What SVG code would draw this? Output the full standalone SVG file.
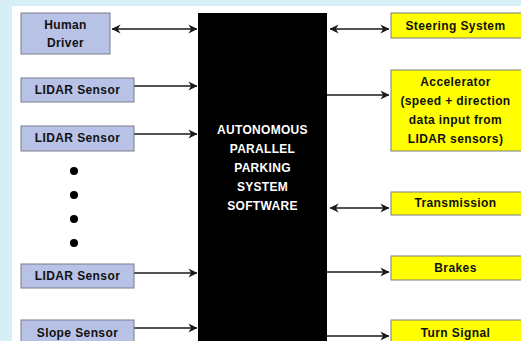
<svg xmlns="http://www.w3.org/2000/svg" width="521" height="341" viewBox="0 0 521 341">
<defs>
<style>
.bg{fill:#d8eef6}
.panel{fill:#ffffff}
.in{fill:#b8c1e6;stroke:#7d7d8a;stroke-width:1}
.out{fill:#ffff00;stroke:#7d7d7d;stroke-width:1}
.core{fill:#000000}
.t{font-family:"Comic Sans MS","Liberation Sans",sans-serif;font-weight:bold;font-size:12px;letter-spacing:0.4px;fill:#111111;text-anchor:middle}
.w{font-family:"Comic Sans MS","Liberation Sans",sans-serif;font-weight:bold;font-size:12px;letter-spacing:0.3px;fill:#ffffff;text-anchor:middle}
.c{stroke:#1a1a1a;stroke-width:1.5;fill:none}
</style>
<marker id="ah" viewBox="0 0 10 10" refX="9.5" refY="5" markerWidth="9" markerHeight="10" orient="auto-start-reverse" markerUnits="userSpaceOnUse">
<path d="M0,0 L10,5 L0,10 L3,5 Z" fill="#1a1a1a"/>
</marker>
</defs>
<rect class="bg" x="0" y="0" width="521" height="341"/>
<rect class="panel" x="12" y="6" width="509" height="335"/>

<g id="connectors">
<line class="c" x1="112" y1="29" x2="197" y2="29" marker-start="url(#ah)" marker-end="url(#ah)"/>
<line class="c" x1="134" y1="86" x2="197" y2="86" marker-end="url(#ah)"/>
<line class="c" x1="134" y1="134" x2="197" y2="134" marker-end="url(#ah)"/>
<line class="c" x1="134" y1="273" x2="197" y2="273" marker-end="url(#ah)"/>
<line class="c" x1="134" y1="328" x2="197" y2="328" marker-end="url(#ah)"/>
<line class="c" x1="330" y1="29" x2="389" y2="29" marker-start="url(#ah)" marker-end="url(#ah)"/>
<line class="c" x1="327" y1="95" x2="389" y2="95" marker-end="url(#ah)"/>
<line class="c" x1="330" y1="208" x2="389" y2="208" marker-start="url(#ah)" marker-end="url(#ah)"/>
<line class="c" x1="327" y1="272" x2="389" y2="272" marker-end="url(#ah)"/>
<line class="c" x1="327" y1="336" x2="389" y2="336" marker-end="url(#ah)"/>
</g>

<g id="human-driver">
<rect class="in" x="21" y="13" width="89" height="41"/>
<text class="t" x="65.5" y="29">Human</text>
<text class="t" x="65.5" y="47">Driver</text>
</g>
<g id="lidar-1">
<rect class="in" x="21" y="78" width="113" height="24"/>
<text class="t" x="77.5" y="94">LIDAR Sensor</text>
</g>
<g id="lidar-2">
<rect class="in" x="21" y="126" width="113" height="25"/>
<text class="t" x="77.5" y="142">LIDAR Sensor</text>
</g>
<g id="ellipsis">
<circle cx="74" cy="171" r="4" fill="#000"/>
<circle cx="74" cy="195" r="4" fill="#000"/>
<circle cx="74" cy="219" r="4" fill="#000"/>
<circle cx="74" cy="243" r="4" fill="#000"/>
</g>
<g id="lidar-3">
<rect class="in" x="21" y="264" width="113" height="24"/>
<text class="t" x="77.5" y="280">LIDAR Sensor</text>
</g>
<g id="slope-sensor">
<rect class="in" x="21" y="320" width="113" height="26"/>
<text class="t" x="77.5" y="337">Slope Sensor</text>
</g>

<g id="software">
<rect class="core" x="198" y="13" width="129" height="335"/>
<text class="w" x="262.5" y="134">AUTONOMOUS</text>
<text class="w" x="262.5" y="153">PARALLEL</text>
<text class="w" x="262.5" y="172">PARKING</text>
<text class="w" x="262.5" y="191">SYSTEM</text>
<text class="w" x="262.5" y="210">SOFTWARE</text>
</g>

<g id="steering">
<rect class="out" x="391" y="13" width="135" height="25"/>
<text class="t" x="455.5" y="30">Steering System</text>
</g>
<g id="accelerator">
<rect class="out" x="391" y="70" width="135" height="81"/>
<text class="t" x="455.5" y="86">Accelerator</text>
<text class="t" x="455.5" y="105">(speed + direction</text>
<text class="t" x="455.5" y="124">data input from</text>
<text class="t" x="455.5" y="143">LIDAR sensors)</text>
</g>
<g id="transmission">
<rect class="out" x="391" y="192" width="135" height="23"/>
<text class="t" x="455.5" y="207">Transmission</text>
</g>
<g id="brakes">
<rect class="out" x="391" y="256" width="135" height="24"/>
<text class="t" x="455.5" y="272">Brakes</text>
</g>
<g id="turn-signal">
<rect class="out" x="391" y="320" width="135" height="26"/>
<text class="t" x="455.5" y="337">Turn Signal</text>
</g>
</svg>
